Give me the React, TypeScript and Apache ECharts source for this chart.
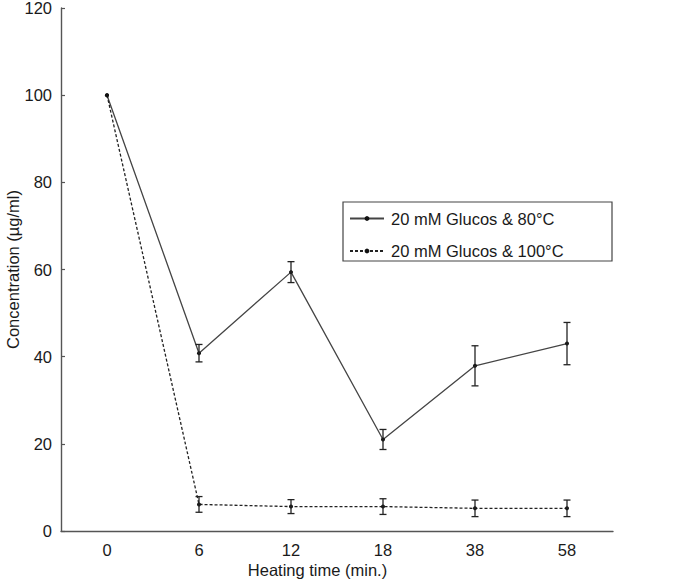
import React, { useEffect, useRef } from "react";
import * as echarts from "echarts";

const categories = ["0", "6", "12", "18", "38", "58"];
const series80 = [100, 40.8, 59.4, 21.0, 37.9, 43.0];
const err80 = [0, 2.0, 2.4, 2.3, 4.6, 4.85];
const series100 = [100, 6.1, 5.6, 5.6, 5.2, 5.2];
const err100 = [0, 1.8, 1.6, 1.8, 1.9, 1.9];
const name80 = "20 mM Glucos & 80°C";
const name100 = "20 mM Glucos & 100°C";
const xTitle = "Heating time (min.)";
const yTitle = "Concentration (µg/ml)";

const FONT = "'Liberation Sans', Arial, Helvetica, sans-serif";
const TXT = "#1a1a1a";
const AX = "#555";

function errData(vals: number[], errs: number[]) {
  return vals
    .map((v, i) => [i, v - errs[i], v + errs[i], errs[i]])
    .filter((d) => d[3] > 0);
}

function renderErr(params: any, api: any) {
  const x = api.value(0);
  const lo = api.coord([x, api.value(1)]);
  const hi = api.coord([x, api.value(2)]);
  const cap = 3.5;
  const style = { stroke: "#222", lineWidth: 1.3 };
  return {
    type: "group",
    children: [
      { type: "line", shape: { x1: lo[0], y1: lo[1], x2: hi[0], y2: hi[1] }, style },
      { type: "line", shape: { x1: lo[0] - cap, y1: lo[1], x2: lo[0] + cap, y2: lo[1] }, style },
      { type: "line", shape: { x1: hi[0] - cap, y1: hi[1], x2: hi[0] + cap, y2: hi[1] }, style },
    ],
  };
}

export default function App() {
  const ref = useRef<HTMLDivElement>(null);
  useEffect(() => {
    if (!ref.current) return;
    const chart = echarts.init(ref.current, null, { renderer: "svg" });
    chart.setOption({
      animation: false,
      backgroundColor: "#fff",
      textStyle: { fontFamily: FONT },
      grid: {
        left: 61,
        top: 8,
        width: 552,
        height: 523,
        containLabel: false,
        outerBoundsMode: "none",
      },
      graphic: [
        {
          type: "rect",
          shape: { x: 343, y: 202, width: 269, height: 59 },
          style: { fill: "#fff", stroke: "#444", lineWidth: 1.2 },
          z: 1,
          silent: true,
        },
        {
          type: "text",
          x: 317.5,
          y: 570,
          style: {
            text: xTitle,
            fontSize: 16.5,
            fontFamily: FONT,
            fill: TXT,
            align: "center",
            verticalAlign: "middle",
          },
        },
      ],
      legend: {
        orient: "vertical",
        left: 349,
        top: 210,
        data: [name80, name100],
        padding: 0,
        itemWidth: 34,
        itemHeight: 6,
        itemGap: 15.5,
        z: 5,
        textStyle: { fontSize: 16.5, color: TXT, fontFamily: FONT, padding: [0, 0, 0, 2] },
      },
      xAxis: {
        type: "category",
        data: categories,
        boundaryGap: true,
        axisLine: { lineStyle: { color: AX, width: 1.4 } },
        axisTick: { inside: true, alignWithLabel: true, length: 3.5, lineStyle: { color: AX, width: 1.2 } },
        axisLabel: { fontSize: 16.5, color: TXT, margin: 10 },
        splitLine: { show: false },
      },
      yAxis: {
        type: "value",
        min: 0,
        max: 120,
        interval: 20,
        name: yTitle,
        nameLocation: "middle",
        nameGap: 40,
        nameMoveOverlap: false,
        nameTextStyle: { fontSize: 16.5, color: TXT },
        axisLine: { show: true, lineStyle: { color: AX, width: 1.4 } },
        axisTick: { show: true, inside: true, length: 4, lineStyle: { color: AX, width: 1.2 } },
        axisLabel: { fontSize: 16.5, lineHeight: 12, color: TXT, margin: 9 },
        splitLine: { show: false },
      },
      series: [
        {
          name: name80,
          type: "line",
          data: series80,
          symbol: "circle",
          symbolSize: 4,
          itemStyle: { color: "#111" },
          lineStyle: { color: "#444", width: 1.3, type: "solid" },
          z: 3,
        },
        {
          name: name100,
          type: "line",
          data: series100,
          symbol: "circle",
          symbolSize: 4,
          itemStyle: { color: "#111" },
          lineStyle: { color: "#222", width: 1.3, type: [3, 2] },
          z: 3,
        },
        {
          type: "custom",
          renderItem: renderErr,
          data: errData(series80, err80),
          encode: { x: 0, y: [1, 2] },
          z: 4,
        },
        {
          type: "custom",
          renderItem: renderErr,
          data: errData(series100, err100),
          encode: { x: 0, y: [1, 2] },
          z: 4,
        },
      ],
    });
    return () => chart.dispose();
  }, []);
  return (
    <div
      ref={ref}
      style={{ position: "fixed", left: 0, top: 0, width: 691, height: 579, background: "#fff" }}
    />
  );
}
